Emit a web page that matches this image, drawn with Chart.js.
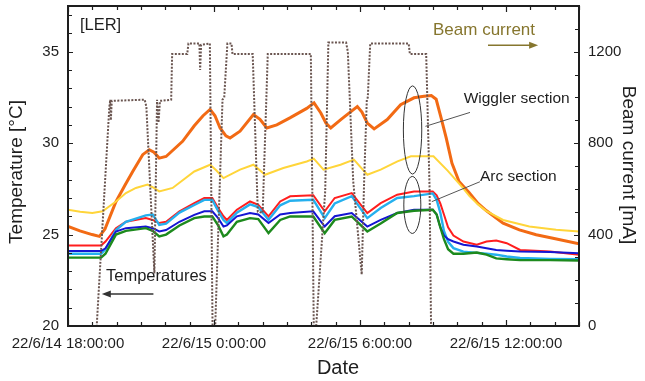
<!DOCTYPE html>
<html>
<head>
<meta charset="utf-8">
<title>LER temperatures and beam current</title>
<script src="https://cdn.jsdelivr.net/npm/chart.js@4.4.1/dist/chart.umd.min.js"></script>
<style>
  html, body { margin: 0; padding: 0; background: #fff; }
  canvas { display: block; }
</style>
</head>
<body>
<canvas id="ler-chart" width="645" height="381"></canvas>
<script>
// Time axis is in hours after 22/6/14 18:00:00
const majorHours = [0, 6, 12, 18];
const majorLabels = ["22/6/14 18:00:00", "22/6/15 0:00:00", "22/6/15 6:00:00", "22/6/15 12:00:00"];

// Beam current [mA]
const beamHours = [0, 1.18, 1.70, 1.74, 1.76, 1.80, 3.15, 3.22, 3.55, 3.66,
    3.72, 3.78, 4.24, 4.28, 4.90, 4.95, 5.40, 5.43, 5.47, 5.83,
    5.94, 6.05, 6.35, 6.42, 6.55, 6.72, 6.76, 7.59, 7.80, 8.00,
    8.21, 9.98, 10.10, 10.20, 10.57, 10.70, 11.43, 11.50, 11.72, 12.07,
    12.17, 12.28, 12.32, 12.42, 14.00, 14.05, 14.72, 14.86, 14.92, 21];
const beamCurrent = [0, 0, 960, 990, 900, 985, 990, 960, 230, 990,
    890, 985, 990, 1190, 1190, 1236, 1236, 1120, 1230, 1236,
    0, 0, 990, 1000, 1236, 1236, 1190, 1190, 500, 495,
    1190, 1190, 0, 0, 590, 1240, 1240, 1200, 635, 225,
    635, 990, 1000, 1236, 1236, 1190, 1190, 600, 0, 0];

// Wiggler section temperature [°C]
const wigglerHours = [0, 0.49, 0.99, 1.29, 1.52, 1.97, 2.34, 2.66, 3.07, 3.34,
    3.53, 3.75, 4.03, 4.71, 5.19, 5.55, 5.84, 6.04, 6.25, 6.49,
    6.66, 7.07, 7.62, 7.89, 8.17, 8.58, 9.12, 9.81, 10.11, 10.39,
    10.6, 10.8, 11.21, 11.89, 12.08, 12.3, 12.58, 13.12, 13.67, 14.22,
    14.63, 14.93, 15.13, 15.33, 15.54, 15.78, 16.07, 16.48, 16.85, 17.2,
    17.88, 18.55, 19.24, 19.93, 21];
const wigglerTemp = [25.45, 25.2, 25.0, 24.9, 25.3, 26.8, 27.7, 28.45, 29.37, 29.64,
    29.5, 29.18, 29.27, 30.1, 30.95, 31.5, 31.84, 31.5, 30.83, 30.4,
    30.28, 30.65, 31.56, 31.3, 30.83, 31.0, 31.38, 31.9, 32.2, 31.65,
    31.1, 30.83, 31.29, 32.0, 31.7, 31.1, 30.78, 31.29, 32.1, 32.48,
    32.56, 32.6, 32.4, 31.4, 30.3, 28.9, 27.9, 27.3, 26.7, 26.3,
    25.62, 25.26, 24.99, 24.8, 24.5];

// Second wiggler sensor (yellow)
const yellowHours = [0, 0.5, 1.0, 1.42, 1.97, 2.38, 2.79, 3.27, 3.53, 3.75,
    4.3, 5.19, 5.84, 6.1, 6.39, 7.07, 7.62, 8.1, 8.85, 9.81,
    10.1, 10.5, 11.2, 11.75, 12.3, 12.85, 13.54, 14.09, 15.02, 15.6,
    16.2, 16.5, 16.85, 17.18, 17.88, 18.96, 20.06, 21];
const yellowTemp = [26.36, 26.25, 26.18, 26.27, 26.81, 27.27, 27.55, 27.73, 27.55, 27.36,
    27.55, 28.45, 28.82, 28.5, 28.09, 28.55, 28.82, 28.27, 28.64, 29.0,
    29.15, 28.55, 28.82, 29.1, 28.27, 28.55, 29.0, 29.28, 29.28, 28.5,
    27.6, 27.1, 26.65, 26.3, 25.8, 25.44, 25.26, 25.17];

// Arc section sensors share one sampling
const arcHours = [0, 1.36, 1.54, 1.97, 2.38, 3.2, 3.48, 3.75, 4.03, 4.58,
    5.19, 5.6, 5.93, 6.17, 6.39, 6.53, 6.94, 7.48, 7.82, 8.24,
    8.72, 9.13, 10.08, 10.55, 10.96, 11.66, 12.30, 12.85, 13.53, 14.22,
    14.99, 15.15, 15.30, 15.45, 15.62, 15.84, 16.25, 16.8, 17.2, 17.6,
    18.03, 18.58, 19.81, 21];
const arcRed = [24.4, 24.4, 24.62, 25.35, 25.7, 25.9, 25.8, 25.63, 25.7, 26.27,
    26.72, 27.0, 27.0, 26.45, 26.0, 25.8, 26.36, 26.81, 26.63, 25.99,
    26.81, 27.09, 27.15, 26.27, 27.0, 27.27, 26.18, 26.72, 27.18, 27.36,
    27.36, 27.15, 26.7, 26.1, 25.4, 24.95, 24.62, 24.44, 24.62, 24.67,
    24.53, 24.16, 24.07, 23.9];
const arcCyan = [23.95, 23.95, 24.2, 25.25, 25.7, 26.05, 26.1, 25.53, 25.6, 26.2,
    26.62, 26.9, 26.9, 26.3, 25.8, 25.63, 26.2, 26.65, 26.5, 25.8,
    26.6, 26.85, 26.9, 25.9, 26.7, 27.1, 25.9, 26.45, 27.0, 27.1,
    27.25, 26.9, 26.2, 25.2, 24.6, 24.26, 24.07, 24.0, 23.95, 23.9,
    23.8, 23.72, 23.67, 23.65];
const arcBlue = [24.1, 24.1, 24.25, 25.17, 25.35, 25.44, 25.35, 25.17, 25.25, 25.7,
    26.08, 26.27, 26.27, 25.9, 25.44, 25.5, 26.0, 26.18, 26.1, 25.63,
    26.1, 26.18, 26.27, 25.44, 26.0, 26.18, 25.44, 25.8, 26.18, 26.36,
    26.36, 26.1, 25.4, 24.95, 24.75, 24.62, 24.44, 24.35, 24.25, 24.16,
    24.12, 24.07, 24.05, 23.98];
const arcGreen = [23.74, 23.74, 23.95, 25.0, 25.2, 25.35, 25.2, 24.9, 25.0, 25.5,
    25.9, 25.99, 25.99, 25.5, 24.9, 25.0, 25.7, 25.9, 25.85, 25.08,
    25.8, 25.99, 25.99, 25.08, 25.8, 25.99, 25.17, 25.6, 26.18, 26.3,
    26.36, 26.1, 25.4, 24.75, 24.2, 23.95, 23.95, 24.02, 23.9, 23.7,
    23.65, 23.6, 23.6, 23.58];

const FONT = '"Liberation Sans", Arial, sans-serif';
const INK = "#1e1e1e";
const OLIVE = "#86762e";

function pairs(xs, ys) {
    return xs.map((x, i) => ({ x: x, y: ys[i] }));
}

function tempLine(label, hours, values, color, width) {
    return {
        label: label,
        data: pairs(hours, values),
        yAxisID: "y",
        borderColor: color,
        borderWidth: width,
        pointRadius: 0,
        order: 1,
    };
}

function stepTicks(min, max, step) {
    const out = [];
    for (let v = min; v <= max + 1e-9; v += step) {
        out.push({ value: v });
    }
    return out;
}

function arrow(ctx, x0, y0, x1, y1, color) {
    const ang = Math.atan2(y1 - y0, x1 - x0);
    ctx.strokeStyle = color;
    ctx.fillStyle = color;
    ctx.lineWidth = 1.5;
    ctx.beginPath();
    ctx.moveTo(x0, y0);
    ctx.lineTo(x1 - 6 * Math.cos(ang), y1 - 6 * Math.sin(ang));
    ctx.stroke();
    ctx.beginPath();
    ctx.moveTo(x1, y1);
    ctx.lineTo(x1 - 9 * Math.cos(ang) + 3.5 * Math.sin(ang), y1 - 9 * Math.sin(ang) - 3.5 * Math.cos(ang));
    ctx.lineTo(x1 - 9 * Math.cos(ang) - 3.5 * Math.sin(ang), y1 - 9 * Math.sin(ang) + 3.5 * Math.cos(ang));
    ctx.closePath();
    ctx.fill();
}

// Frame, inward tick marks, axis titles and the hand-drawn style notes
const frameAndNotes = {
    id: "frameAndNotes",
    afterDraw(chart) {
        const { ctx, chartArea: a, scales } = chart;
        const sx = scales.x;
        const sy = scales.y;
        const sr = scales.y1;
        const px = (h) => sx.getPixelForValue(h);
        const py = (t) => sy.getPixelForValue(t);

        ctx.save();
        ctx.strokeStyle = INK;
        ctx.lineWidth = 1.2;
        ctx.beginPath();
        sx.ticks.forEach((t) => {
            const x = Math.round(px(t.value)) + 0.5;
            const len = t.label ? 6 : 4;
            ctx.moveTo(x, a.bottom);
            ctx.lineTo(x, a.bottom - len);
            ctx.moveTo(x, a.top);
            ctx.lineTo(x, a.top + len);
        });
        sy.ticks.forEach((t) => {
            const y = Math.round(py(t.value)) + 0.5;
            ctx.moveTo(a.left, y);
            ctx.lineTo(a.left + (t.label ? 5 : 4), y);
        });
        sr.ticks.forEach((t) => {
            const y = Math.round(sr.getPixelForValue(t.value)) + 0.5;
            ctx.moveTo(a.right, y);
            ctx.lineTo(a.right - (t.label ? 5 : 4), y);
        });
        ctx.stroke();

        ctx.lineWidth = 2;
        ctx.strokeRect(a.left, a.top, a.right - a.left, a.bottom - a.top);

        // axis titles
        ctx.fillStyle = INK;
        ctx.textBaseline = "middle";
        ctx.textAlign = "center";
        ctx.font = "20px " + FONT;
        ctx.fillText("Date", 338, 368);
        ctx.save();
        ctx.translate(17, 172);
        ctx.rotate(-Math.PI / 2);
        ctx.font = "19px " + FONT;
        ctx.fillText("Temperature [°C]", 0, 0);
        ctx.restore();
        ctx.save();
        ctx.translate(628, 165);
        ctx.rotate(Math.PI / 2);
        ctx.font = "19px " + FONT;
        ctx.fillText("Beam current [mA]", 0, 0);
        ctx.restore();

        // notes inside the plot
        ctx.textAlign = "left";
        ctx.font = "16.5px " + FONT;
        ctx.fillText("[LER]", px(0.49), py(36.46));
        ctx.fillText("Temperatures", px(1.56), py(22.73));
        arrow(ctx, px(3.51), py(21.75), px(1.39), py(21.75), "#333");

        ctx.fillStyle = OLIVE;
        ctx.font = "17px " + FONT;
        ctx.fillText("Beam current", px(15.0), py(36.18));
        arrow(ctx, px(17.26), py(35.35), px(19.32), py(35.35), OLIVE);

        ctx.fillStyle = INK;
        ctx.font = "15.5px " + FONT;
        ctx.fillText("Wiggler section", px(16.26), py(32.45));
        ctx.fillText("Arc section", px(16.93), py(28.16));

        ctx.strokeStyle = "#555";
        ctx.lineWidth = 1;
        ctx.beginPath();
        ctx.moveTo(px(16.52), py(31.68));
        ctx.lineTo(px(14.69), py(30.92));
        ctx.moveTo(px(16.93), py(27.89));
        ctx.lineTo(px(14.95), py(26.80));
        ctx.stroke();

        ctx.strokeStyle = "#333";
        [[14.16, 30.72, 0.378, 2.41], [14.15, 26.62, 0.35, 1.56]].forEach(([h, t, rh, rt]) => {
            const cx = px(h);
            const cy = py(t);
            ctx.beginPath();
            ctx.ellipse(cx, cy, px(h + rh) - cx, cy - py(t + rt), 0, 0, Math.PI * 2);
            ctx.stroke();
        });
        ctx.restore();
    },
};

const tickFont = { family: FONT, size: 15 };

new Chart(document.getElementById("ler-chart"), {
    type: "line",
    data: {
        datasets: [
            {
                label: "Beam current",
                data: pairs(beamHours, beamCurrent),
                yAxisID: "y1",
                borderColor: "#6a5550",
                borderWidth: 2,
                borderDash: [2, 1.5],
                pointRadius: 0,
                order: 0,
            },
            tempLine("Arc green", arcHours, arcGreen, "#1d8a1d", 2.4),
            tempLine("Arc blue", arcHours, arcBlue, "#1515d2", 2),
            tempLine("Arc cyan", arcHours, arcCyan, "#25b0ee", 2.4),
            tempLine("Arc red", arcHours, arcRed, "#ff1e1e", 2),
            tempLine("Wiggler yellow", yellowHours, yellowTemp, "#ffd53a", 2),
            tempLine("Wiggler", wigglerHours, wigglerTemp, "#f26a14", 3),
        ],
    },
    options: {
        responsive: false,
        animation: false,
        layout: { padding: { top: 6, left: 0, right: 0, bottom: 0 } },
        plugins: {
            legend: { display: false },
            tooltip: { enabled: false },
        },
        scales: {
            x: {
                type: "linear",
                min: 0,
                max: 21,
                afterBuildTicks: (scale) => { scale.ticks = stepTicks(0, 21, 1); },
                afterFit: (scale) => {
                    scale.height = 55;
                    scale.paddingLeft = 0;
                    scale.paddingRight = 0;
                },
                grid: { display: false },
                border: { display: false },
                ticks: {
                    autoSkip: false,
                    maxRotation: 0,
                    minRotation: 0,
                    padding: 1,
                    color: INK,
                    font: tickFont,
                    callback: (v) => {
                        const i = majorHours.indexOf(v);
                        return i >= 0 ? majorLabels[i] : "";
                    },
                },
            },
            y: {
                position: "left",
                min: 20,
                max: 37.5,
                afterBuildTicks: (scale) => { scale.ticks = stepTicks(20, 37, 1); },
                afterFit: (scale) => {
                    scale.width = 68;
                    scale.paddingTop = 0;
                    scale.paddingBottom = 0;
                },
                grid: { display: false },
                border: { display: false },
                ticks: {
                    autoSkip: false,
                    padding: 1,
                    color: INK,
                    font: tickFont,
                    callback: (v) => (v % 5 === 0 ? String(v) : ""),
                },
            },
            y1: {
                position: "right",
                min: 0,
                max: 1400,
                afterBuildTicks: (scale) => { scale.ticks = stepTicks(0, 1400, 100); },
                afterFit: (scale) => {
                    scale.width = 66;
                    scale.paddingTop = 0;
                    scale.paddingBottom = 0;
                },
                grid: { display: false },
                border: { display: false },
                ticks: {
                    autoSkip: false,
                    padding: 1,
                    color: INK,
                    font: tickFont,
                    callback: (v) => (v % 400 === 0 ? String(v) : ""),
                },
            },
        },
    },
    plugins: [frameAndNotes],
});
</script>
</body>
</html>
